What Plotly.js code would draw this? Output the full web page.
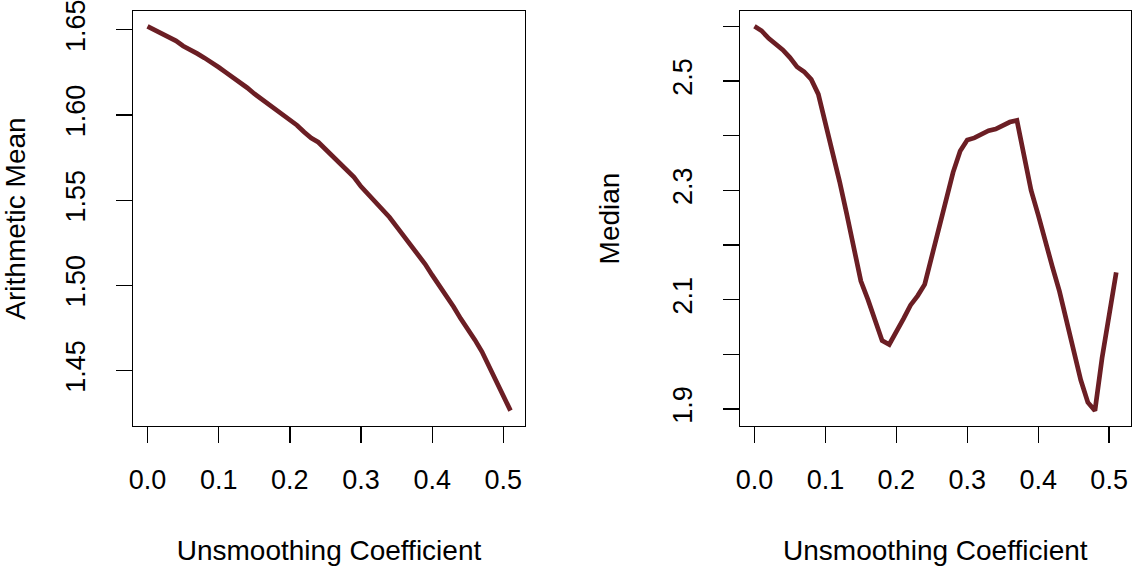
<!DOCTYPE html>
<html>
<head>
<meta charset="utf-8">
<script src="https://cdn.plot.ly/plotly-3.0.1.min.js"></script>
<style>
  html, body { margin: 0; padding: 0; background: #ffffff; }
  #chart { width: 1132px; height: 568px; }
</style>
</head>
<body>
<div id="chart"></div>
<script>
// Unsmoothing coefficient grid (0.00 .. 0.51)
const coefficient = [
  0.00, 0.01, 0.02, 0.03, 0.04, 0.05, 0.06, 0.07, 0.08, 0.09,
  0.10, 0.11, 0.12, 0.13, 0.14, 0.15, 0.16, 0.17, 0.18, 0.19,
  0.20, 0.21, 0.22, 0.23, 0.24, 0.25, 0.26, 0.27, 0.28, 0.29,
  0.30, 0.31, 0.32, 0.33, 0.34, 0.35, 0.36, 0.37, 0.38, 0.39,
  0.40, 0.41, 0.42, 0.43, 0.44, 0.45, 0.46, 0.47, 0.48, 0.49,
  0.50, 0.51
];

// Arithmetic mean at each coefficient
const arithmeticMean = [
  1.652, 1.650, 1.648, 1.646, 1.6435, 1.6405, 1.6385, 1.636, 1.6335, 1.631,
  1.628, 1.625, 1.622, 1.6195, 1.616, 1.6125, 1.6095, 1.6065, 1.6035, 1.600,
  1.597, 1.594, 1.590, 1.5865, 1.584, 1.580, 1.576, 1.5715, 1.568, 1.5635,
  1.558, 1.5535, 1.5495, 1.5445, 1.540, 1.5345, 1.529, 1.524, 1.519, 1.5125,
  1.506, 1.500, 1.4935, 1.4875, 1.4805, 1.4745, 1.468, 1.461, 1.4525, 1.444,
  1.435, 1.4265
];

// Median at each coefficient
const median = [
  2.600, 2.592, 2.578, 2.568, 2.557, 2.543, 2.526, 2.517, 2.503, 2.476,
  2.424, 2.370, 2.316, 2.257, 2.196, 2.134, 2.100, 2.064, 2.025, 2.018,
  2.040, 2.065, 2.090, 2.107, 2.128, 2.180, 2.232, 2.282, 2.333, 2.372,
  2.392, 2.396, 2.403, 2.409, 2.412, 2.419, 2.425, 2.428, 2.365, 2.300,
  2.255, 2.205, 2.160, 2.115, 2.060, 2.007, 1.953, 1.912, 1.897, 1.993,
  2.078, 2.150
];

// Tick values and labels
const xTickVals = [0.0, 0.1, 0.2, 0.3, 0.4, 0.5];
const xTickText = ["0.0", "0.1", "0.2", "0.3", "0.4", "0.5"];
const meanTickVals = [1.45, 1.50, 1.55, 1.60, 1.65];
const meanTickText = ["1.45", "1.50", "1.55", "1.60", "1.65"];
const medianTickVals = [1.9, 2.0, 2.1, 2.2, 2.3, 2.4, 2.5, 2.6];
const medianTickText = ["1.9", "", "2.1", "", "2.3", "", "2.5", ""];

const lineColor = "#6b1e24";
const fontFamily = "Liberation Sans, Arial, Helvetica, sans-serif";
const W = 1132, H = 568;

// Pad a data range by 4% on each side
function padded(values) {
  const lo = Math.min(...values), hi = Math.max(...values);
  const d = (hi - lo) * 0.04;
  return [lo - d, hi + d];
}

const tickFont = { family: fontFamily, size: 27, color: "#000" };
const titleFont = { family: fontFamily, size: 28, color: "#000" };

function xAxis(domain, anchor) {
  return {
    domain: domain,
    anchor: anchor,
    range: padded(coefficient),
    tickmode: "array",
    tickvals: xTickVals,
    ticktext: xTickText,
    ticks: "outside",
    ticklen: 16,
    tickwidth: 1.3,
    tickcolor: "#000",
    ticklabelstandoff: 13,
    ticklabeloverflow: "allow",
    showline: true,
    linecolor: "#000",
    linewidth: 1.3,
    mirror: true,
    showgrid: false,
    zeroline: false,
    tickfont: tickFont,
    title: { text: "Unsmoothing Coefficient", font: titleFont, standoff: 46 },
    fixedrange: true
  };
}

function yAxis(domain, anchor, values, tv, tt, title) {
  return {
    domain: domain,
    anchor: anchor,
    range: padded(values),
    tickmode: "array",
    tickvals: tv,
    ticktext: tt,
    tickangle: -90,
    ticks: "outside",
    ticklen: 16,
    tickwidth: 1.3,
    tickcolor: "#000",
    ticklabelstandoff: 20,
    ticklabeloverflow: "allow",
    showline: true,
    linecolor: "#000",
    linewidth: 1.3,
    mirror: true,
    showgrid: false,
    zeroline: false,
    tickfont: tickFont,
    title: { text: title, font: titleFont, standoff: 40 },
    fixedrange: true
  };
}

const yDomain = [1 - 426 / H, 1 - 11 / H];

const traces = [
  {
    type: "scatter", mode: "lines",
    x: coefficient, y: arithmeticMean,
    xaxis: "x", yaxis: "y",
    line: { color: lineColor, width: 4.7 },
    hoverinfo: "skip"
  },
  {
    type: "scatter", mode: "lines",
    x: coefficient, y: median,
    xaxis: "x2", yaxis: "y2",
    line: { color: lineColor, width: 4.7 },
    hoverinfo: "skip"
  }
];

const layout = {
  width: W, height: H,
  margin: { l: 0, r: 0, t: 0, b: 0 },
  paper_bgcolor: "#fff",
  plot_bgcolor: "#fff",
  showlegend: false,
  xaxis: xAxis([133 / W, 525 / W], "y"),
  yaxis: yAxis(yDomain, "x", arithmeticMean, meanTickVals, meanTickText, "Arithmetic Mean"),
  xaxis2: xAxis([740 / W, 1130.7 / W], "y2"),
  yaxis2: yAxis(yDomain, "x2", median, medianTickVals, medianTickText, "Median")
};

Plotly.newPlot("chart", traces, layout, { displayModeBar: false, staticPlot: true });
</script>
</body>
</html>
